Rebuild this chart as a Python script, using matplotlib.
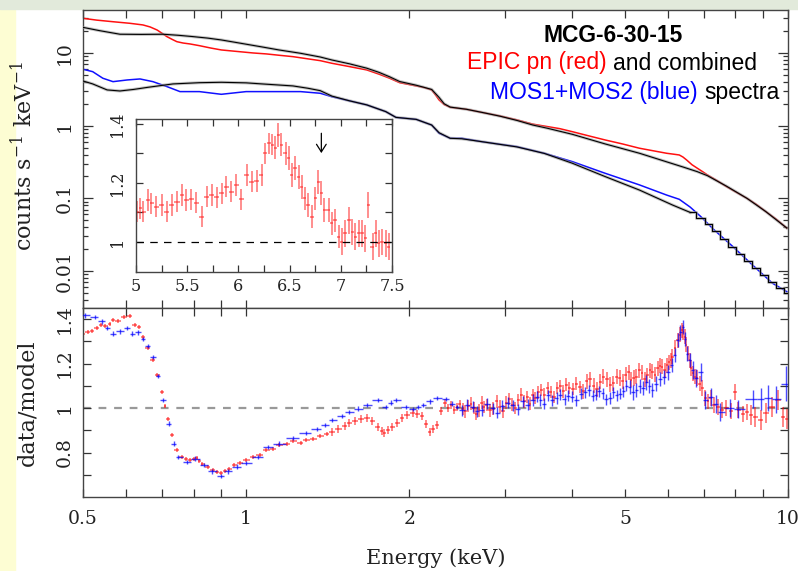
import numpy as np
import matplotlib
matplotlib.use("Agg")
import matplotlib.pyplot as plt
from matplotlib.ticker import FixedLocator, LogLocator, NullFormatter
from matplotlib.patches import Rectangle

plt.rcParams['font.family'] = ['DejaVu Serif']
plt.rcParams['mathtext.fontset'] = 'dejavuserif'

# ---- top panel: count spectra (counts s^-1 keV^-1) ----
pn_e = [0.50, 0.53, 0.568, 0.61, 0.645, 0.665, 0.685, 0.70, 0.714, 0.73,
        0.745, 0.765, 0.788, 0.82, 0.86, 0.90, 0.974, 1.03, 1.09, 1.15,
        1.22, 1.30, 1.37, 1.44, 1.55, 1.67, 1.76, 1.84, 1.92, 2.06,
        2.13, 2.20, 2.24, 2.27, 2.32, 2.38, 2.55, 2.75, 2.94, 3.16,
        3.38, 3.60, 3.79, 4.00, 4.30, 4.60, 4.95, 5.32, 5.65, 5.97,
        6.15, 6.30, 6.40, 6.50, 6.65, 6.80, 6.95, 7.10, 7.40, 7.70,
        8.00, 8.40, 8.75, 9.10, 9.50, 9.95]
pn_counts = [30.0, 28.3, 26.9, 25.6, 24.3, 22.8, 20.7, 18.6, 16.8, 15.4,
             14.3, 13.7, 13.3, 12.6, 11.7, 11.0, 10.4, 10.0, 9.7, 9.3,
             8.9, 8.3, 7.84, 7.21, 6.5, 5.84, 5.1, 4.49, 3.9, 3.52,
             3.35, 3.10, 2.6, 2.26, 1.95, 1.79, 1.68, 1.5, 1.36, 1.2,
             1.05, 0.97, 0.91, 0.826, 0.72, 0.635, 0.56, 0.489, 0.45, 0.417,
             0.405, 0.395, 0.37, 0.337, 0.29, 0.26, 0.234, 0.21, 0.175, 0.145,
             0.123, 0.100, 0.082, 0.0657, 0.052, 0.039]

pnmod_e = [0.50, 0.536, 0.585, 0.64, 0.702, 0.75, 0.797, 0.85, 0.90, 0.95,
           1.00, 1.07, 1.15, 1.26, 1.37, 1.44, 1.55, 1.67, 1.76, 1.84,
           1.92, 2.06, 2.20, 2.27, 2.32, 2.38, 2.55, 2.75, 2.94, 3.16,
           3.38, 3.60, 4.00, 4.60, 5.32, 5.97, 6.40, 6.80, 7.10, 7.70,
           8.40, 9.10, 9.95]
pnmod = [22.5, 20.3, 18.1, 18.0, 18.1, 17.5, 16.8, 16.0, 15.1, 14.1,
         13.2, 12.1, 11.0, 9.9, 8.8, 8.0, 7.1, 6.17, 5.4, 4.7,
         4.05, 3.6, 3.15, 2.45, 2.0, 1.8, 1.68, 1.5, 1.35, 1.18,
         1.02, 0.92, 0.76, 0.56, 0.417, 0.318, 0.27, 0.233, 0.205, 0.147,
         0.100, 0.0657, 0.039]

mos_e = [0.50, 0.521, 0.544, 0.568, 0.603, 0.637, 0.673, 0.714, 0.755, 0.82,
         0.90, 1.00, 1.15, 1.26, 1.37, 1.44, 1.55, 1.67, 1.81, 1.89,
         2.06, 2.20, 2.27, 2.38, 2.50, 2.73, 3.16, 3.55, 4.00, 4.60,
         5.32, 5.97, 6.30, 6.60, 6.90, 7.30, 7.90, 8.60, 9.36, 9.95]
mos_counts = [5.97, 5.53, 4.49, 4.03, 4.25, 4.39, 4.03, 3.45, 2.94, 2.94,
              2.70, 2.94, 2.94, 2.94, 2.79, 2.50, 2.20, 1.93, 1.56, 1.30,
              1.22, 1.02, 0.786, 0.67, 0.67, 0.60, 0.514, 0.417, 0.32, 0.221,
              0.153, 0.111, 0.097, 0.0757, 0.0563, 0.037, 0.0219, 0.0121, 0.0068, 0.0052]

mosmod_e = [0.50, 0.521, 0.554, 0.585, 0.62, 0.659, 0.733, 0.82, 0.90, 1.00,
            1.07, 1.22, 1.30, 1.37, 1.44, 1.55, 1.67, 1.81, 1.89, 2.06,
            2.20, 2.27, 2.38, 2.50, 2.73, 3.16, 3.55, 4.00, 4.60, 5.32,
            6.12, 6.60, 6.90, 7.13, 7.37, 7.62, 7.88, 8.15, 8.43, 8.72,
            9.02, 9.33, 9.65, 9.98]
mosmod = [4.12, 3.75, 3.10, 3.00, 3.15, 3.37, 3.75, 3.90, 3.95, 3.88,
          3.75, 3.52, 3.27, 3.03, 2.55, 2.20, 1.93, 1.56, 1.30, 1.22,
          1.02, 0.80, 0.67, 0.66, 0.60, 0.51, 0.415, 0.304, 0.199, 0.13,
          0.081, 0.064, 0.054, 0.045, 0.036, 0.028, 0.0215, 0.0172, 0.0138, 0.011,
          0.0088, 0.0070, 0.0059, 0.0050]

# ---- bottom panel: data/model ratios ----
red_e = [0.50, 0.51, 0.52, 0.53, 0.54, 0.55, 0.56, 0.568, 0.58, 0.594,
         0.61, 0.623, 0.634, 0.645, 0.659, 0.673, 0.685, 0.70, 0.708, 0.717,
         0.729, 0.745, 0.76, 0.775, 0.788, 0.80, 0.81, 0.82, 0.83, 0.85,
         0.868, 0.885, 0.90, 0.915, 0.93, 0.95, 0.974, 1.00, 1.03, 1.06,
         1.09, 1.12, 1.15, 1.19, 1.22, 1.26, 1.29, 1.33, 1.37, 1.41,
         1.44, 1.48, 1.52, 1.55, 1.59, 1.63, 1.67, 1.71, 1.75, 1.78,
         1.80, 1.83, 1.86, 1.90, 1.94, 1.98, 2.03, 2.07, 2.11, 2.15,
         2.18, 2.21, 2.25, 2.29, 2.33, 2.36, 2.39, 2.42, 2.45, 2.48,
         2.51, 2.54, 2.57, 2.60, 2.63, 2.66, 2.69, 2.72, 2.75, 2.78,
         2.82, 2.86, 2.90, 2.94, 2.98, 3.02, 3.06, 3.10, 3.14, 3.18,
         3.22, 3.26, 3.30, 3.34, 3.38, 3.42, 3.46, 3.50, 3.55, 3.60,
         3.65, 3.70, 3.75, 3.80, 3.85, 3.90, 3.95, 4.01, 4.07, 4.13,
         4.19, 4.25, 4.31, 4.38, 4.44, 4.50, 4.56, 4.63, 4.70, 4.76,
         4.83, 4.89, 4.96, 5.02, 5.08, 5.13, 5.19, 5.25, 5.32, 5.38,
         5.44, 5.50, 5.56, 5.62, 5.68, 5.75, 5.81, 5.86, 5.92, 5.97,
         6.02, 6.07, 6.12, 6.19, 6.26, 6.32, 6.37, 6.41, 6.45, 6.49,
         6.53, 6.58, 6.63, 6.68, 6.74, 6.80, 6.87, 6.94, 7.04, 7.12,
         7.20, 7.30, 7.43, 7.55, 7.70, 7.84, 7.98, 8.10, 8.25, 8.40,
         8.55, 8.70, 8.90, 9.10, 9.36, 9.60, 9.80, 9.95]
red_ratio = [1.335, 1.340, 1.347, 1.362, 1.372, 1.368, 1.380, 1.398, 1.392, 1.410,
             1.412, 1.375, 1.365, 1.320, 1.270, 1.215, 1.148, 1.070, 1.010, 0.950,
             0.880, 0.810, 0.780, 0.770, 0.767, 0.772, 0.775, 0.762, 0.750, 0.735,
             0.720, 0.712, 0.710, 0.718, 0.728, 0.742, 0.753, 0.765, 0.780, 0.790,
             0.812, 0.818, 0.834, 0.840, 0.852, 0.843, 0.856, 0.862, 0.874, 0.882,
             0.894, 0.905, 0.920, 0.932, 0.940, 0.950, 0.955, 0.940, 0.915, 0.895,
             0.887, 0.900, 0.916, 0.935, 0.955, 0.968, 0.977, 0.972, 0.965, 0.930,
             0.894, 0.905, 0.924, 0.985, 1.022, 1.000, 1.012, 0.990, 1.006, 1.020,
             0.995, 0.985, 1.010, 1.020, 1.000, 0.975, 0.990, 1.025, 1.005, 1.013,
             0.990, 0.998, 1.030, 1.006, 0.985, 1.025, 1.040, 1.015, 1.000, 1.036,
             1.060, 1.030, 1.050, 1.020, 1.058, 1.045, 1.070, 1.080, 1.060, 1.090,
             1.072, 1.050, 1.090, 1.100, 1.075, 1.105, 1.090, 1.085, 1.110, 1.095,
             1.075, 1.120, 1.130, 1.100, 1.085, 1.118, 1.140, 1.130, 1.105, 1.112,
             1.140, 1.135, 1.120, 1.150, 1.160, 1.128, 1.135, 1.140, 1.170, 1.158,
             1.130, 1.148, 1.170, 1.163, 1.150, 1.178, 1.190, 1.185, 1.170, 1.193,
             1.205, 1.215, 1.230, 1.270, 1.305, 1.330, 1.350, 1.340, 1.320, 1.285,
             1.245, 1.215, 1.180, 1.157, 1.140, 1.135, 1.110, 1.090, 1.045, 1.030,
             1.045, 1.012, 1.006, 0.990, 1.000, 0.985, 1.073, 0.990, 0.975, 0.983,
             0.968, 0.960, 0.945, 0.977, 1.006, 1.036, 0.960, 0.950]
red_err = [0.009] * 50 + [0.018] * 30 + [0.028] * 40 + [0.034] * 50 + [0.036] * 10 + [0.045] * 8

blue_e = [0.504, 0.526, 0.542, 0.554, 0.568, 0.585, 0.603, 0.616, 0.632, 0.645,
          0.659, 0.673, 0.688, 0.702, 0.720, 0.736, 0.750, 0.778, 0.805, 0.836,
          0.864, 0.900, 0.924, 0.960, 1.00, 1.05, 1.096, 1.15, 1.22, 1.29,
          1.35, 1.40, 1.44, 1.50, 1.55, 1.61, 1.67, 1.75, 1.81, 1.85,
          1.89, 1.97, 2.03, 2.08, 2.12, 2.18, 2.25, 2.34, 2.40, 2.45,
          2.50, 2.56, 2.62, 2.67, 2.72, 2.78, 2.85, 2.91, 2.97, 3.04,
          3.11, 3.17, 3.24, 3.31, 3.38, 3.44, 3.49, 3.55, 3.60, 3.67,
          3.74, 3.80, 3.87, 3.93, 4.00, 4.07, 4.15, 4.22, 4.30, 4.36,
          4.42, 4.48, 4.55, 4.62, 4.69, 4.76, 4.83, 4.90, 4.96, 5.03,
          5.10, 5.18, 5.25, 5.33, 5.40, 5.48, 5.55, 5.62, 5.70, 5.80,
          5.90, 6.00, 6.10, 6.18, 6.26, 6.33, 6.40, 6.45, 6.50, 6.60,
          6.67, 6.75, 6.90, 7.04, 7.20, 7.35, 7.50, 7.80, 8.10, 8.60,
          8.90, 9.20, 9.50, 9.90]
blue_ratio = [1.417, 1.410, 1.390, 1.360, 1.335, 1.345, 1.360, 1.335, 1.340, 1.310,
              1.280, 1.230, 1.143, 1.036, 0.930, 0.840, 0.780, 0.758, 0.773, 0.745,
              0.715, 0.695, 0.715, 0.737, 0.753, 0.780, 0.826, 0.840, 0.865, 0.888,
              0.905, 0.925, 0.946, 0.965, 0.983, 0.998, 1.013, 1.036, 1.006, 1.025,
              1.036, 1.006, 0.995, 1.005, 1.013, 1.030, 1.045, 1.040, 1.020, 1.006,
              0.990, 1.015, 1.006, 0.985, 0.990, 1.020, 1.000, 0.980, 1.010, 1.025,
              1.013, 0.995, 1.030, 1.015, 1.036, 1.050, 1.036, 1.020, 1.058, 1.035,
              1.045, 1.060, 1.040, 1.055, 1.050, 1.035, 1.065, 1.070, 1.080, 1.055,
              1.060, 1.075, 1.067, 1.040, 1.045, 1.070, 1.058, 1.065, 1.075, 1.100,
              1.095, 1.070, 1.080, 1.100, 1.090, 1.115, 1.100, 1.080, 1.110, 1.130,
              1.140, 1.160, 1.193, 1.240, 1.305, 1.340, 1.365, 1.310, 1.245, 1.215,
              1.170, 1.135, 1.163, 1.036, 1.050, 1.020, 0.983, 1.000, 0.995, 1.040,
              1.040, 1.045, 1.040, 1.110]
blue_err = [0.01] * 50 + [0.025] * 40 + [0.032] * 20 + [0.04] * 10 + [0.05, 0.06, 0.06, 0.08]

# ---- inset: pn ratio around the iron line ----
ins_e = [5.01, 5.04, 5.07, 5.12, 5.15, 5.20, 5.25, 5.30, 5.35, 5.40,
         5.45, 5.49, 5.54, 5.59, 5.64, 5.69, 5.74, 5.79, 5.84, 5.88,
         5.93, 5.98, 6.03, 6.08, 6.13, 6.18, 6.23, 6.26, 6.30, 6.33,
         6.36, 6.39, 6.42, 6.46, 6.49, 6.52, 6.55, 6.59, 6.62, 6.65,
         6.68, 6.72, 6.75, 6.78, 6.81, 6.84, 6.88, 6.91, 6.94, 6.98,
         7.01, 7.04, 7.08, 7.11, 7.14, 7.18, 7.21, 7.24, 7.27, 7.31,
         7.34, 7.37, 7.40, 7.44, 7.47]
ins_ratio = [1.103, 1.114, 1.103, 1.142, 1.131, 1.120, 1.125, 1.103, 1.125, 1.137,
             1.159, 1.142, 1.145, 1.133, 1.086, 1.154, 1.159, 1.152, 1.165, 1.187,
             1.170, 1.193, 1.145, 1.227, 1.204, 1.207, 1.227, 1.300, 1.335, 1.330,
             1.320, 1.363, 1.330, 1.300, 1.284, 1.227, 1.250, 1.220, 1.187, 1.148,
             1.125, 1.086, 1.148, 1.204, 1.165, 1.108, 1.108, 1.063, 1.073, 1.018,
             1.001, 1.029, 1.073, 1.033, 1.018, 1.029, 1.029, 1.012, 1.125, 0.984,
             1.029, 0.995, 1.000, 0.995, 0.984]
ins_err = [0.036] * 30 + [0.04] * 20 + [0.045] * 15


def half_bins(e, log=True):
    e = np.asarray(e, dtype=float)
    if log:
        mid = np.sqrt(e[1:] * e[:-1])
        lo = np.r_[e[0] ** 2 / mid[0], mid]
        hi = np.r_[mid, e[-1] ** 2 / mid[-1]]
    else:
        mid = 0.5 * (e[1:] + e[:-1])
        lo = np.r_[2 * e[0] - mid[0], mid]
        hi = np.r_[mid, 2 * e[-1] - mid[-1]]
    return [e - lo, hi - e]


def style(ax, size):
    ax.tick_params(which='both', direction='in', top=True, right=True,
                   colors='#333333', labelcolor='#222222', labelsize=size, width=0.9)
    for s in ax.spines.values():
        s.set_color('#444444')
        s.set_linewidth(1.0)


W, H = 798, 571
fig = plt.figure(figsize=(W / 100, H / 100), dpi=100)
fig.patch.set_facecolor('white')
fig.patches.append(Rectangle((0, 0), 15 / W, 1, transform=fig.transFigure,
                             color='#fdfdd3', zorder=-5))
fig.patches.append(Rectangle((0, 1 - 9 / H), 1, 9 / H, transform=fig.transFigure,
                             color='#e2eadb', zorder=-4))

ax1 = fig.add_axes([83 / W, 1 - 308 / H, 705 / W, 298 / H])
ax2 = fig.add_axes([83 / W, 1 - 497 / H, 705 / W, 189 / H])
axin = fig.add_axes([136 / W, 1 - 272 / H, 256 / W, 153 / H])
axin.set_zorder(5)

# top panel
ax1.plot(pn_e, pn_counts, color='#ff1010', lw=1.1, zorder=2)
ax1.plot(mos_e, mos_counts, color='#1010ff', lw=1.1, zorder=2)
ax1.plot(pnmod_e, pnmod, color='#999999', lw=2.2, alpha=0.6, zorder=3)
ax1.plot(pnmod_e, pnmod, color='black', lw=0.8, zorder=4)
lo_e = [e for e in mosmod_e if e <= 6.60]
lo_m = mosmod[:len(lo_e)]
hi_e = mosmod_e[len(lo_e) - 1:]
hi_m = mosmod[len(lo_e) - 1:]
for dstyle, e, m in [('default', lo_e, lo_m), ('steps-mid', hi_e, hi_m)]:
    ax1.plot(e, m, color='#999999', lw=2.2, alpha=0.6, zorder=3, drawstyle=dstyle)
    ax1.plot(e, m, color='black', lw=0.8, zorder=4, drawstyle=dstyle)

ax1.set_xscale('log')
ax1.set_yscale('log')
ax1.set_xlim(0.5, 10)
ax1.set_ylim(0.0031, 39)
ax1.xaxis.set_major_locator(FixedLocator([0.5, 1, 2, 5, 10]))
ax1.xaxis.set_minor_locator(FixedLocator([0.6, 0.7, 0.8, 0.9, 3, 4, 6, 7, 8, 9]))
ax1.xaxis.set_minor_formatter(NullFormatter())
ax1.tick_params(axis='x', labelbottom=False)
ax1.yaxis.set_major_locator(FixedLocator([0.01, 0.1, 1, 10]))
ax1.yaxis.set_minor_locator(LogLocator(base=10, subs=np.arange(2, 10), numticks=20))
ax1.yaxis.set_minor_formatter(NullFormatter())
style(ax1, 13.5)
ax1.set_yticklabels(['0.01', '0.1', '1', '10'], rotation=90, va='center')
ax1.tick_params(axis='y', which='major', length=7, pad=7)
ax1.tick_params(axis='y', which='minor', length=3.5)
ax1.tick_params(axis='x', which='both', length=6)
ax1.set_ylabel(r'counts s$^{-1}$ keV$^{-1}$', fontsize=16, color='#222222')
ax1.yaxis.set_label_coords(-0.066, 0.51)

# bottom panel
xe = half_bins(red_e)
ax2.errorbar(red_e, red_ratio, xerr=xe, yerr=red_err, fmt='none',
             ecolor='#ff0000', elinewidth=1.1, alpha=0.6, zorder=2)
xe = half_bins(blue_e)
ax2.errorbar(blue_e, blue_ratio, xerr=xe, yerr=blue_err, fmt='none',
             ecolor='#0000ff', elinewidth=1.0, alpha=0.7, zorder=3)
ax2.axhline(1.0, color='#999999', lw=1.6, dashes=(3.5, 3.5), zorder=1)
ax2.set_xscale('log')
ax2.set_xlim(0.5, 10)
ax2.set_ylim(0.6, 1.45)
ax2.xaxis.set_major_locator(FixedLocator([0.5, 1, 2, 5, 10]))
ax2.xaxis.set_minor_locator(FixedLocator([0.6, 0.7, 0.8, 0.9, 3, 4, 6, 7, 8, 9]))
ax2.xaxis.set_minor_formatter(NullFormatter())
ax2.yaxis.set_major_locator(FixedLocator([0.8, 1.0, 1.2, 1.4]))
ax2.yaxis.set_minor_locator(FixedLocator([0.7, 0.9, 1.1, 1.3]))
style(ax2, 13.5)
ax2.set_xticklabels(['0.5', '1', '2', '5', '10'])
ax2.set_yticklabels(['0.8', '1', '1.2', '1.4'], rotation=90, va='center')
ax2.tick_params(which='both', length=6)
ax2.tick_params(axis='x', pad=9)
ax2.tick_params(axis='y', pad=7)
ax2.set_ylabel('data/model', fontsize=16, color='#222222')
ax2.yaxis.set_label_coords(-0.064, 0.5)
ax2.set_xlabel('Energy (keV)', fontsize=15, color='#222222')
ax2.xaxis.set_label_coords(0.5, -0.27)

# inset
axin.set_facecolor('white')
xe = half_bins(ins_e, log=False)
axin.errorbar(ins_e, ins_ratio, xerr=xe, yerr=ins_err, fmt='none',
              ecolor='#ff2020', elinewidth=1.4, alpha=0.5)
axin.axhline(1.0, color='black', lw=0.9, dashes=(6, 5))
axin.annotate('', xy=(6.81, 1.292), xytext=(6.81, 1.378),
              arrowprops=dict(arrowstyle='->,head_length=0.55,head_width=0.35',
                              color='black', lw=0.9))
axin.set_xlim(5, 7.5)
axin.set_ylim(0.898, 1.417)
axin.xaxis.set_major_locator(FixedLocator([5, 5.5, 6, 6.5, 7, 7.5]))
axin.xaxis.set_minor_locator(FixedLocator([5.25, 5.75, 6.25, 6.75, 7.25]))
axin.yaxis.set_major_locator(FixedLocator([1.0, 1.2, 1.4]))
axin.yaxis.set_minor_locator(FixedLocator([1.1, 1.3]))
style(axin, 11.5)
axin.set_xticklabels(['5', '5.5', '6', '6.5', '7', '7.5'])
axin.set_yticklabels(['1', '1.2', '1.4'], rotation=90, va='center')
axin.tick_params(which='both', length=5)
axin.tick_params(axis='x', pad=4)
axin.tick_params(axis='y', pad=7)

# annotation text
sans = 'Liberation Sans'
fig.text(613 / W, 1 - 35 / H, 'MCG-6-30-15', ha='center', va='center',
         fontsize=16.5, fontweight='bold', family=sans)
fig.text(607 / W, 1 - 63 / H, 'EPIC pn (red)', ha='right', va='center',
         fontsize=16.5, color='#ff0000', family=sans)
fig.text(613 / W, 1 - 63 / H, 'and combined', ha='left', va='center',
         fontsize=16.5, color='black', family=sans)
fig.text(698 / W, 1 - 92 / H, 'MOS1+MOS2 (blue)', ha='right', va='center',
         fontsize=16.5, color='#0000ff', family=sans)
fig.text(704 / W, 1 - 92 / H, 'spectra', ha='left', va='center',
         fontsize=16.5, color='black', family=sans)

fig.savefig('out.png', dpi=100, facecolor=fig.get_facecolor())
